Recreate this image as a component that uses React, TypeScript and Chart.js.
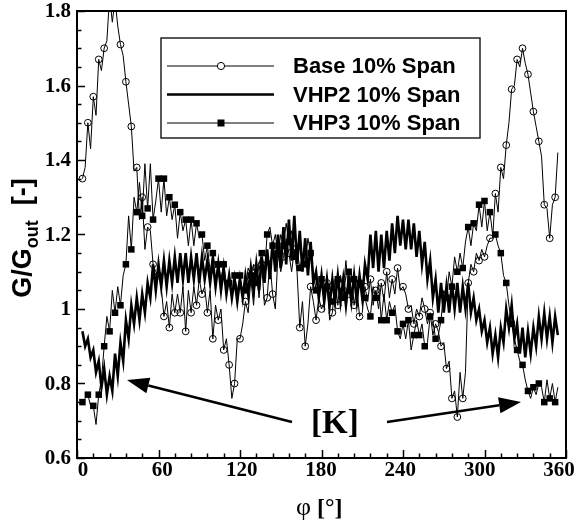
import React, { useEffect, useRef } from 'react';
import { Chart, registerables } from 'chart.js';

Chart.register(...registerables);

// Circumferential angle phi [deg]
const angles = [
  4, 6, 8, 10, 12, 14, 16, 18, 20, 22, 24, 26, 28, 30, 32, 34, 36, 38, 40, 42, 44, 46, 48, 50, 52, 54, 56, 58, 60,
  62, 64, 66, 68, 70, 72, 74, 76, 78, 80, 82, 84, 86, 88, 90, 92, 94, 96, 98, 100, 102, 104, 106, 108, 110, 112, 114,
  116, 118, 120, 122, 124, 126, 128, 130, 132, 134, 136, 138, 140, 142, 144, 146, 148, 150, 152, 154, 156, 158, 160,
  162, 164, 166, 168, 170, 172, 174, 176, 178, 180, 182, 184, 186, 188, 190, 192, 194, 196, 198, 200, 202, 204, 206,
  208, 210, 212, 214, 216, 218, 220, 222, 224, 226, 228, 230, 232, 234, 236, 238, 240, 242, 244, 246, 248, 250, 252,
  254, 256, 258, 260, 262, 264, 266, 268, 270, 272, 274, 276, 278, 280, 282, 284, 286, 288, 290, 292, 294, 296, 298,
  300, 302, 304, 306, 308, 310, 312, 314, 316, 318, 320, 322, 324, 326, 328, 330, 332, 334, 336, 338, 340, 342, 344,
  346, 348, 350, 352, 354,
];

const baseValues = [
  1.35, 1.38, 1.50, 1.43, 1.57, 1.52, 1.67, 1.64, 1.70, 1.72, 1.84, 1.77, 1.83, 1.76, 1.71, 1.68, 1.61, 1.55, 1.49,
  1.37, 1.38, 1.24, 1.30, 1.16, 1.22, 1.21, 1.12, 1.10, 1.09, 1.06, 0.98, 1.02, 0.95, 1.04, 0.99, 1.04, 0.99, 1.06,
  0.94, 1.05, 0.99, 1.06, 1.01, 1.08, 1.04, 1.06, 0.99, 1.05, 0.92, 1.01, 0.97, 1.00, 0.89, 0.92, 0.85, 0.76, 0.80,
  0.92, 0.92, 0.96, 1.02, 0.99, 1.08, 1.01, 1.11, 1.03, 1.12, 1.01, 1.03, 1.13, 1.04, 1.00, 1.15, 1.10, 1.14, 1.18,
  1.15, 1.10, 1.16, 1.10, 0.95, 1.02, 0.90, 0.96, 1.06, 1.02, 0.97, 1.03, 1.00, 1.02, 1.07, 0.97, 0.99, 1.08, 1.01,
  1.09, 1.05, 1.13, 1.04, 1.10, 1.01, 1.06, 0.98, 0.99, 1.06, 1.02, 1.08, 1.01, 1.05, 1.00, 1.07, 1.02, 1.10, 1.03,
  1.08, 1.04, 1.11, 1.05, 1.06, 1.04, 1.00, 1.01, 0.96, 1.00, 0.98, 1.03, 1.00, 0.96, 0.99, 0.93, 0.96, 0.94, 0.90,
  0.91, 0.84, 0.86, 0.76, 0.78, 0.71, 0.83, 0.76, 0.83, 1.07, 1.12, 1.10, 1.15, 1.13, 1.16, 1.14, 1.17, 1.19, 1.19,
  1.31, 1.26, 1.38, 1.35, 1.44, 1.50, 1.59, 1.60, 1.67, 1.65, 1.70, 1.66, 1.63, 1.58, 1.53, 1.49, 1.45, 1.41, 1.28,
  1.27, 1.19, 1.28, 1.30, 1.42,
];

const vhp2Values = [
  0.94, 0.90, 0.92, 0.87, 0.89, 0.83, 0.86, 0.79, 0.84, 0.77, 0.82, 0.78, 0.88, 0.82, 0.91, 0.86, 0.97, 0.92, 1.01,
  0.96, 1.03, 0.97, 1.04, 0.99, 1.07, 1.03, 1.12, 1.05, 1.12, 1.06, 1.13, 1.06, 1.13, 1.07, 1.14, 1.07, 1.15, 1.08,
  1.15, 1.07, 1.14, 1.08, 1.15, 1.07, 1.14, 1.08, 1.13, 1.07, 1.13, 1.06, 1.12, 1.05, 1.11, 1.04, 1.09, 1.03, 1.08,
  1.02, 1.08, 1.03, 1.09, 1.04, 1.11, 1.05, 1.12, 1.05, 1.14, 1.07, 1.16, 1.08, 1.18, 1.10, 1.20, 1.11, 1.22, 1.12,
  1.24, 1.13, 1.25, 1.12, 1.21, 1.10, 1.19, 1.09, 1.18, 1.07, 1.10, 1.03, 1.09, 1.02, 1.08, 1.01, 1.08, 1.02, 1.09,
  1.02, 1.08, 1.01, 1.08, 1.02, 1.09, 1.02, 1.09, 1.03, 1.12, 1.08, 1.20, 1.11, 1.21, 1.10, 1.20, 1.11, 1.21, 1.13,
  1.23, 1.15, 1.25, 1.17, 1.24, 1.16, 1.24, 1.16, 1.23, 1.14, 1.21, 1.12, 1.18, 1.08, 1.13, 1.03, 1.08, 0.99, 1.07,
  0.99, 1.06, 0.99, 1.07, 1.00, 1.07, 0.99, 1.06, 1.00, 1.07, 0.99, 1.03, 0.97, 1.00, 0.94, 0.97, 0.91, 0.95, 0.88,
  0.93, 0.87, 0.95, 0.91, 1.00, 0.95, 1.01, 0.92, 0.96, 0.88, 0.95, 0.87, 0.94, 0.88, 0.95, 0.90, 0.98, 0.92, 0.99,
  0.92, 0.98, 0.91, 0.98, 0.93,
];

const vhp3Values = [
  0.75, 0.76, 0.77, 0.74, 0.74, 0.69, 0.77, 0.81, 0.90, 0.98, 0.94, 1.05, 0.99, 1.06, 1.01, 1.09, 1.12, 1.25, 1.16,
  1.30, 1.26, 1.34, 1.25, 1.39, 1.27, 1.39, 1.24, 1.29, 1.35, 1.26, 1.35, 1.25, 1.30, 1.24, 1.28, 1.19, 1.26, 1.21,
  1.24, 1.17, 1.24, 1.17, 1.23, 1.19, 1.20, 1.13, 1.17, 1.10, 1.15, 1.11, 1.12, 1.08, 1.12, 1.06, 1.07, 1.03, 1.09,
  1.05, 1.09, 1.04, 1.05, 1.11, 1.09, 1.12, 1.07, 1.12, 1.15, 1.10, 1.20, 1.22, 1.17, 1.20, 1.15, 1.20, 1.17, 1.23,
  1.18, 1.21, 1.14, 1.16, 1.11, 1.14, 1.12, 1.19, 1.15, 1.10, 1.05, 1.07, 1.08, 1.03, 1.06, 1.04, 1.02, 1.04, 1.08,
  1.02, 1.03, 1.09, 1.10, 1.05, 1.08, 1.04, 1.07, 1.07, 1.03, 1.00, 0.98, 1.06, 1.03, 1.07, 0.97, 1.04, 0.97, 1.02,
  0.99, 1.01, 0.94, 0.92, 0.96, 0.92, 0.97, 0.89, 0.93, 0.97, 0.93, 0.96, 0.90, 0.91, 0.98, 0.97, 0.92, 0.93, 0.97,
  1.05, 1.03, 1.10, 1.06, 1.14, 1.10, 1.15, 1.11, 1.18, 1.22, 1.17, 1.23, 1.21, 1.28, 1.22, 1.29, 1.21, 1.26, 1.20,
  1.20, 1.17, 1.15, 1.09, 1.07, 1.01, 0.96, 0.92, 0.89, 0.86, 0.85, 0.81, 0.78, 0.76, 0.79, 0.77, 0.80, 0.79, 0.75,
  0.81, 0.76, 0.80, 0.75, 0.79,
];

const seriesNames = ['Base 10% Span', 'VHP2 10% Span', 'VHP3 10% Span'];

const xTickValues = [0, 60, 120, 180, 240, 300, 360];
const xTickLabels = ['0', '60', '120', '180', '240', '300', '360'];
const yTickValues = [0.6, 0.8, 1.0, 1.2, 1.4, 1.6, 1.8];
const yTickLabels = ['0.6', '0.8', '1', '1.2', '1.4', '1.6', '1.8'];

const annotationText = '[K]';

const toPoints = (vals: number[]) => vals.map((v, i) => ({ x: angles[i], y: v }));

const decorPlugin = {
  id: 'decor',
  afterDraw(chart: any) {
    const ctx: CanvasRenderingContext2D = chart.ctx;
    const xs = chart.scales.x;
    const ys = chart.scales.y;
    const { left, right, top, bottom } = chart.chartArea;
    ctx.save();
    ctx.strokeStyle = '#000';
    ctx.fillStyle = '#000';

    // frame
    ctx.lineWidth = 2;
    ctx.strokeRect(left, top, right - left, bottom - top);

    // x ticks (inward)
    ctx.lineWidth = 1.5;
    for (let d = 0; d <= 360; d += 12) {
      const px = Math.round(xs.getPixelForValue(d)) + 0.5;
      const len = d % 60 === 0 ? 8 : 4.5;
      ctx.beginPath();
      ctx.moveTo(px, bottom);
      ctx.lineTo(px, bottom - len);
      ctx.stroke();
    }
    // y ticks (inward)
    for (let k = 0; k <= 24; k++) {
      const v = 0.6 + k * 0.05;
      const py = Math.round(ys.getPixelForValue(v)) + 0.5;
      const len = k % 4 === 0 ? 8 : 4.5;
      ctx.beginPath();
      ctx.moveTo(left, py);
      ctx.lineTo(left + len, py);
      ctx.stroke();
    }

    // x tick labels
    ctx.font = 'bold 21px "Liberation Serif", "Times New Roman", serif';
    ctx.textAlign = 'center';
    ctx.textBaseline = 'alphabetic';
    xTickValues.forEach((v, i) => {
      const px = xs.getPixelForValue(v);
      const lx = 83 + (px - left) * (476 / (right - left));
      ctx.fillText(xTickLabels[i], lx, bottom + 18);
    });
    // y tick labels
    ctx.textAlign = 'right';
    ctx.textBaseline = 'middle';
    yTickValues.forEach((v, i) => {
      const py = ys.getPixelForValue(v);
      ctx.fillText(yTickLabels[i], left - 6, py + 1);
    });

    // x title: phi [deg]
    ctx.textBaseline = 'alphabetic';
    ctx.textAlign = 'left';
    ctx.font = '26px "Liberation Serif", "Times New Roman", serif';
    const phi = '\u03C6';
    ctx.fillText(phi, 296, 515);
    const phiW = ctx.measureText(phi).width;
    ctx.font = 'bold 24px "Liberation Serif", "Times New Roman", serif';
    ctx.fillText(' [\u00B0]', 296 + phiW, 515);

    // y title: G/G_out [-]
    ctx.save();
    ctx.translate(31, 238);
    ctx.rotate(-Math.PI / 2);
    const big = 'bold 27px "Liberation Sans", Arial, sans-serif';
    const small = 'bold 18px "Liberation Sans", Arial, sans-serif';
    ctx.font = big;
    const w1 = ctx.measureText('G/G').width;
    const w3 = ctx.measureText('  [-]').width;
    ctx.font = small;
    const w2 = ctx.measureText('out').width;
    const total = w1 + w2 + w3;
    let cx = -total / 2;
    ctx.textAlign = 'left';
    ctx.font = big;
    ctx.fillText('G/G', cx, 0);
    cx += w1;
    ctx.font = small;
    ctx.fillText('out', cx, 7);
    cx += w2;
    ctx.font = big;
    ctx.fillText('  [-]', cx, 0);
    ctx.restore();

    // legend
    ctx.lineWidth = 1.5;
    ctx.strokeStyle = '#222';
    ctx.strokeRect(161, 38, 319, 100);
    const rows = [66, 94.5, 123];
    const lx0 = 167, lx1 = 274, mx = 221;
    ctx.strokeStyle = '#000';
    // base
    ctx.lineWidth = 1;
    ctx.beginPath(); ctx.moveTo(lx0, rows[0]); ctx.lineTo(lx1, rows[0]); ctx.stroke();
    ctx.fillStyle = '#fff';
    ctx.beginPath(); ctx.arc(mx, rows[0], 3.6, 0, Math.PI * 2); ctx.fill(); ctx.stroke();
    ctx.fillStyle = '#000';
    // vhp2
    ctx.lineWidth = 2.6;
    ctx.beginPath(); ctx.moveTo(lx0, rows[1]); ctx.lineTo(lx1, rows[1]); ctx.stroke();
    // vhp3
    ctx.lineWidth = 1;
    ctx.beginPath(); ctx.moveTo(lx0, rows[2]); ctx.lineTo(lx1, rows[2]); ctx.stroke();
    ctx.fillRect(mx - 3.5, rows[2] - 3.5, 7, 7);
    ctx.font = 'bold 22px "Liberation Sans", Arial, sans-serif';
    ctx.textAlign = 'left';
    ctx.textBaseline = 'middle';
    seriesNames.forEach((n, i) => ctx.fillText(n, 293, rows[i] + 1));

    // annotation [K] with arrows
    ctx.font = 'bold 33px "Liberation Serif", "Times New Roman", serif';
    ctx.textBaseline = 'alphabetic';
    ctx.textAlign = 'left';
    ctx.fillText(annotationText, 311, 433);
    const arrow = (x0: number, y0: number, x1: number, y1: number) => {
      const ang = Math.atan2(y1 - y0, x1 - x0);
      const hl = 22, hw = 8;
      const bx = x1 - hl * Math.cos(ang), by = y1 - hl * Math.sin(ang);
      ctx.lineWidth = 2.5;
      ctx.beginPath(); ctx.moveTo(x0, y0); ctx.lineTo(bx, by); ctx.stroke();
      ctx.beginPath();
      ctx.moveTo(x1, y1);
      ctx.lineTo(bx + hw * Math.sin(ang), by - hw * Math.cos(ang));
      ctx.lineTo(bx - hw * Math.sin(ang), by + hw * Math.cos(ang));
      ctx.closePath();
      ctx.fill();
    };
    arrow(292, 422, 127, 380);
    arrow(387, 422, 521, 402);

    ctx.restore();
  },
};

export default function App() {
  const canvasRef = useRef<HTMLCanvasElement>(null);

  useEffect(() => {
    document.body.style.margin = '0';
    const canvas = canvasRef.current;
    if (!canvas) return;
    const chart = new Chart(canvas, {
      type: 'line',
      data: {
        datasets: [
          {
            label: seriesNames[0],
            data: toPoints(baseValues),
            borderColor: '#000',
            borderWidth: 1,
            backgroundColor: 'rgba(0,0,0,0)',
            pointStyle: 'circle',
            pointRadius: (c: any) => (c.dataIndex % 2 === 0 ? 3.4 : 0),
            pointBorderColor: '#000',
            pointBorderWidth: 1,
            pointBackgroundColor: 'rgba(0,0,0,0)',
            tension: 0,
          },
          {
            label: seriesNames[1],
            data: toPoints(vhp2Values),
            borderColor: '#000',
            borderWidth: 2.6,
            pointRadius: 0,
            tension: 0,
          },
          {
            label: seriesNames[2],
            data: toPoints(vhp3Values),
            borderColor: '#000',
            borderWidth: 1,
            pointStyle: 'rect',
            pointRadius: (c: any) => (c.dataIndex % 2 === 0 ? 4.6 : 0),
            pointBorderWidth: 0,
            pointBackgroundColor: '#000',
            tension: 0,
          },
        ],
      },
      options: {
        animation: false,
        responsive: false,
        devicePixelRatio: 1,
        layout: { padding: { left: 77, right: 11, top: 11, bottom: 63 } },
        plugins: { legend: { display: false }, tooltip: { enabled: false } },
        scales: {
          x: { type: 'linear', min: 0, max: 360, display: false },
          y: { type: 'linear', min: 0.6, max: 1.8, display: false },
        },
        elements: { line: { borderJoinStyle: 'miter' } },
      },
      plugins: [decorPlugin],
    } as any);
    return () => chart.destroy();
  }, []);

  return (
    <div style={{ width: 577, height: 521, background: '#fff' }}>
      <canvas ref={canvasRef} width={577} height={521} />
    </div>
  );
}
